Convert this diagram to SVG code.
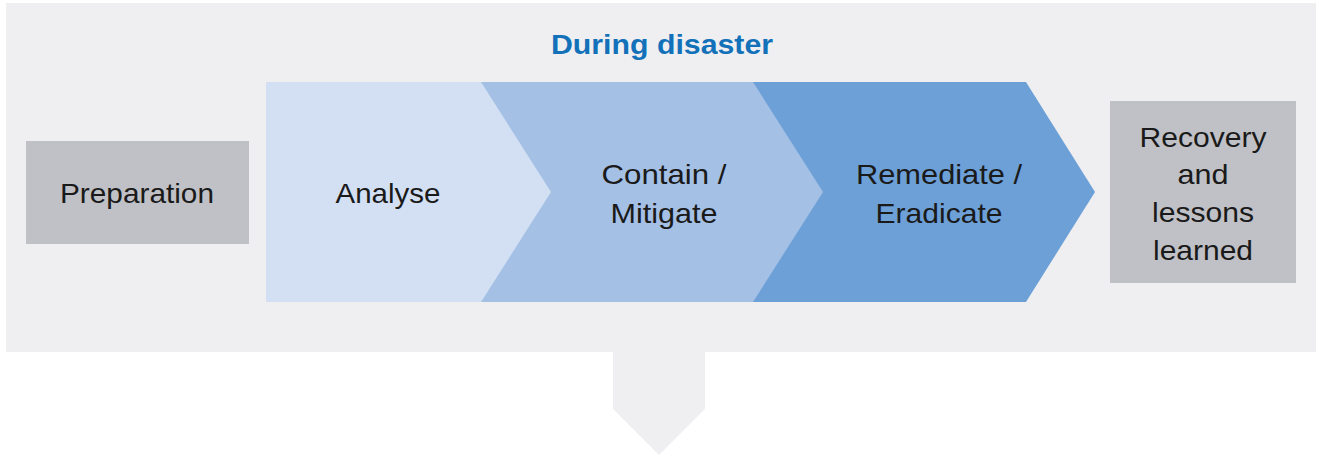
<svg xmlns="http://www.w3.org/2000/svg" width="1319" height="461" viewBox="0 0 1319 461">
<style>
.lbl{font-family:"Liberation Sans",Arial,sans-serif;font-size:28px;fill:#1a1a1a;text-anchor:middle}
.ttl{font-family:"Liberation Sans",Arial,sans-serif;font-size:27px;font-weight:bold;fill:#1271b9;text-anchor:middle}
.gray{fill:#c0c1c6}
</style>
<rect width="1319" height="461" fill="#ffffff"/>
<g id="panel">
<rect x="6" y="3" width="1310" height="349" fill="#efeff1"/>
<polygon points="613,351 705,351 705,409 659,455 613,409" fill="#efeff1"/>
<text class="ttl" x="662" y="54" textLength="222" lengthAdjust="spacingAndGlyphs">During disaster</text>
</g>
<g id="preparation">
<rect class="gray" x="26" y="141" width="223" height="103"/>
<text class="lbl" x="137" y="203" textLength="154" lengthAdjust="spacingAndGlyphs">Preparation</text>
</g>
<g id="remediate">
<polygon points="753,82 1026,82 1095,192 1026,302 753,302" fill="#6da0d7"/>
<text class="lbl" x="939" y="184" textLength="166" lengthAdjust="spacingAndGlyphs">Remediate /</text>
<text class="lbl" x="939" y="223" textLength="127" lengthAdjust="spacingAndGlyphs">Eradicate</text>
</g>
<g id="contain">
<polygon points="481,82 753,82 823,192 753,302 481,302" fill="#a4c0e5"/>
<text class="lbl" x="664" y="184" textLength="125" lengthAdjust="spacingAndGlyphs">Contain /</text>
<text class="lbl" x="664" y="223" textLength="107" lengthAdjust="spacingAndGlyphs">Mitigate</text>
</g>
<g id="analyse">
<polygon points="266,82 481,82 551,192 481,302 266,302" fill="#d3e0f3"/>
<text class="lbl" x="388" y="203" textLength="105" lengthAdjust="spacingAndGlyphs">Analyse</text>
</g>
<g id="recovery">
<rect class="gray" x="1110" y="101" width="186" height="182"/>
<text class="lbl" x="1203" y="147" textLength="127" lengthAdjust="spacingAndGlyphs">Recovery</text>
<text class="lbl" x="1203" y="184" textLength="51" lengthAdjust="spacingAndGlyphs">and</text>
<text class="lbl" x="1203" y="222" textLength="102" lengthAdjust="spacingAndGlyphs">lessons</text>
<text class="lbl" x="1203" y="260" textLength="100" lengthAdjust="spacingAndGlyphs">learned</text>
</g>
<g id="connectors"></g>
</svg>
